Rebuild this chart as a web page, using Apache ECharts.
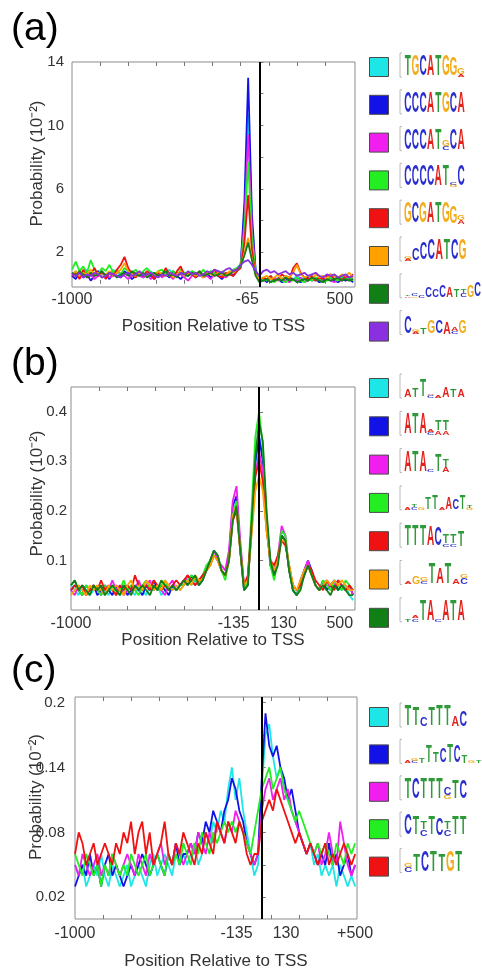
<!DOCTYPE html>
<html>
<head>
<meta charset="utf-8">
<script src="https://cdn.jsdelivr.net/npm/echarts/dist/echarts.min.js"></script>
<style>
  html, body { margin: 0; padding: 0; background: #fff; }
  #chart { width: 482px; height: 971px; }
</style>
</head>
<body>
<div id="chart"></div>
<script>
// Sampling positions (bp relative to TSS)
const positions = [-1000,-980,-960,-940,-920,-900,-880,-860,-840,-820,-800,-780,-760,-740,-720,-700,-680,-660,-640,-620,
  -600,-580,-560,-540,-520,-500,-480,-460,-440,-420,-400,-380,-360,-340,-320,-300,-280,-260,-240,-220,
  -200,-180,-160,-140,-120,-100,-80,-60,-40,-20,0,20,40,60,80,100,120,140,160,180,
  200,220,240,260,280,300,320,340,360,380,400,420,440,460,480,500];

// ---- panel (a) ----
const aCyan = [0.6,0.8,0.5,0.7,0.9,0.6,0.5,0.8,0.7,0.4,0.6,0.9,0.7,0.5,0.6,0.8,0.5,0.7,0.6,0.4,0.7,0.8,0.6,0.5,0.7,0.6,0.9,0.5,0.6,0.7,0.4,0.6,0.8,0.5,0.7,0.6,0.5,0.8,0.6,0.7,0.5,0.6,0.7,0.8,0.9,
  1.3,4.5,10.7,3.8,0.9,0.3,
  0.4,0.3,0.5,0.2,0.4,0.3,0.5,0.4,0.2,0.6,0.3,0.4,0.5,0.3,0.2,0.4,0.5,0.3,0.4,0.6,0.3,0.4,0.5,0.3,0.4];
const aBlue = [0.5,0.3,0.7,0.4,0.6,0.2,0.5,0.8,0.4,0.6,0.3,0.7,0.5,0.4,0.8,0.6,0.3,0.5,0.7,0.4,0.6,0.5,0.3,0.7,0.5,0.6,0.4,0.8,0.5,0.3,0.6,0.5,0.7,0.4,0.6,0.5,0.7,0.4,0.6,0.5,0.3,0.6,0.7,0.5,0.8,
  1.2,5.2,13.0,4.4,0.8,0.2,
  0.3,0.1,0.4,0.2,0.3,0.1,0.2,0.4,0.3,0.2,0.1,0.3,0.4,0.2,0.3,0.1,0.2,0.3,0.4,0.2,0.1,0.3,0.2,0.3,0.1];
const aMagenta = [0.7,0.5,0.6,0.4,0.8,0.6,0.3,0.5,0.7,0.6,0.4,0.5,0.8,0.6,0.5,0.3,0.6,0.7,0.5,0.4,0.6,0.3,0.5,0.7,0.4,0.6,0.5,0.3,0.7,0.6,0.4,0.2,0.5,0.7,0.6,0.4,0.5,0.3,0.6,0.8,0.5,0.4,0.6,0.7,0.9,
  1.1,4.0,9.4,3.4,0.7,0.2,
  0.2,0.3,0.1,0.4,0.2,0.3,0.2,0.1,0.3,0.2,0.4,0.1,0.2,0.3,0.2,0.4,0.1,0.3,0.2,0.1,0.3,0.2,0.4,0.2,0.3];
const aGreen = [0.9,1.4,0.8,1.1,0.7,1.5,0.9,0.6,1.0,0.8,1.2,0.7,0.9,0.6,1.0,0.8,0.7,0.9,0.6,0.8,1.0,0.7,0.5,0.8,0.9,0.6,0.7,0.8,0.5,0.9,0.7,0.6,0.8,0.7,0.5,0.9,0.6,0.8,0.7,0.5,0.8,0.6,0.7,0.9,1.0,
  1.2,3.4,7.7,2.9,0.7,0.2,
  0.3,0.2,0.4,0.1,0.3,0.2,0.1,0.3,0.2,0.4,0.2,0.1,0.3,0.2,0.4,0.3,0.1,0.2,0.4,0.3,0.2,0.5,0.3,0.4,0.2];
const aRed = [0.5,0.7,0.3,0.9,0.4,0.6,1.0,0.5,0.8,0.3,0.7,0.5,0.9,1.2,1.7,1.0,0.6,0.4,0.7,0.5,0.8,0.6,0.3,0.7,0.5,1.0,0.6,0.4,0.8,1.1,0.5,0.7,0.6,0.4,0.8,0.5,0.7,0.6,0.9,0.5,0.4,0.7,0.6,0.5,0.8,
  1.0,2.6,5.6,2.1,0.6,0.2,
  0.4,0.3,0.5,0.2,0.3,0.6,0.4,0.3,1.0,1.3,0.7,0.4,0.3,0.5,0.2,0.4,0.3,0.5,0.6,0.3,0.4,0.2,0.5,0.4,0.6];
const aOrange = [0.6,0.8,0.5,0.7,0.6,0.9,0.5,0.7,0.4,0.6,0.8,0.5,0.7,0.9,1.3,0.8,0.6,0.5,0.7,0.6,0.4,0.7,0.5,0.8,0.6,0.5,0.7,0.4,0.6,0.8,0.5,0.6,0.7,0.5,0.6,0.4,0.7,0.6,0.5,0.7,0.6,0.5,0.8,0.7,0.9,
  1.1,1.9,2.9,1.6,0.6,0.3,
  0.4,0.5,0.3,0.4,0.6,0.3,0.5,0.4,0.7,1.2,0.6,0.4,0.5,0.3,0.6,0.4,0.5,0.3,0.6,0.5,0.4,0.6,0.5,0.7,0.4];
const aDarkGreen = [0.7,0.5,0.8,0.6,0.4,0.7,0.5,0.6,0.8,0.5,0.7,0.6,0.4,0.6,0.7,0.5,0.8,0.6,0.5,0.7,0.4,0.6,0.7,0.5,0.6,0.8,0.5,0.6,0.4,0.7,0.6,0.5,0.7,0.6,0.8,0.5,0.6,0.7,0.5,0.6,0.7,0.5,0.6,0.8,0.9,
  1.1,1.8,2.6,1.5,0.5,0.1,
  0.2,0.3,0.1,0.2,0.3,0.2,0.4,0.2,0.3,0.1,0.2,0.3,0.2,0.4,0.3,0.2,0.1,0.3,0.2,0.3,0.4,0.2,0.3,0.2,0.3];
const aPurple = [0.6,0.5,0.7,0.4,0.6,0.5,0.7,0.6,0.4,0.5,0.7,0.6,0.5,0.4,0.6,0.7,0.5,0.6,0.8,0.5,0.6,0.7,0.5,0.4,0.6,0.5,0.7,0.6,0.5,0.7,0.6,0.8,0.6,0.7,0.5,0.6,0.8,0.7,0.9,0.8,0.7,0.9,1.0,0.8,0.9,
  1.2,1.4,1.5,1.2,0.8,0.5,
  0.8,0.9,0.7,0.8,0.6,0.7,0.8,0.6,0.7,0.5,0.6,0.7,0.5,0.6,0.7,0.5,0.4,0.6,0.5,0.6,0.4,0.5,0.6,0.4,0.5];

// ---- panel (b) ----
const bCyan = [0.05,0.04,0.03,0.05,0.04,0.03,0.04,0.05,0.03,0.04,0.03,0.05,0.04,0.03,0.04,0.05,0.04,0.03,0.05,0.04,0.03,0.05,0.04,0.05,0.03,0.04,0.05,0.04,0.05,0.04,
  0.05,0.06,0.05,0.06,0.05,0.07,0.08,
  0.09,0.11,0.10,0.08,0.07,0.10,0.19,0.22,0.13,0.05,0.06,0.16,0.29,0.35,
  0.31,0.19,0.10,0.07,0.10,0.15,0.14,0.08,0.04,0.03,0.05,0.08,0.09,0.08,0.05,0.04,0.05,0.04,0.05,0.06,0.05,0.04,0.05,0.03,0.02];
const bBlue = [0.04,0.05,0.04,0.03,0.05,0.04,0.05,0.03,0.04,0.05,0.04,0.03,0.05,0.04,0.05,0.03,0.04,0.05,0.04,0.03,0.05,0.04,0.06,0.04,0.05,0.04,0.03,0.05,0.04,0.05,
  0.06,0.05,0.07,0.06,0.05,0.06,0.08,
  0.10,0.12,0.11,0.08,0.07,0.11,0.21,0.23,0.12,0.04,0.05,0.17,0.30,0.35,
  0.30,0.18,0.09,0.07,0.10,0.15,0.14,0.08,0.04,0.03,0.06,0.08,0.10,0.08,0.05,0.04,0.06,0.04,0.05,0.06,0.04,0.05,0.04,0.05,0.03];
const bMagenta = [0.04,0.03,0.05,0.04,0.03,0.04,0.05,0.04,0.03,0.05,0.04,0.06,0.04,0.05,0.03,0.04,0.05,0.04,0.06,0.04,0.05,0.06,0.04,0.05,0.04,0.03,0.05,0.06,0.04,0.05,
  0.05,0.07,0.06,0.05,0.06,0.07,0.08,
  0.10,0.12,0.10,0.09,0.08,0.12,0.22,0.25,0.14,0.05,0.06,0.16,0.27,0.32,
  0.28,0.17,0.10,0.08,0.11,0.17,0.15,0.08,0.05,0.04,0.05,0.08,0.10,0.07,0.05,0.04,0.05,0.06,0.04,0.05,0.06,0.05,0.04,0.05,0.03];
const bGreen = [0.05,0.06,0.04,0.03,0.05,0.04,0.05,0.04,0.03,0.05,0.04,0.05,0.03,0.04,0.06,0.04,0.05,0.04,0.03,0.05,0.06,0.04,0.05,0.04,0.05,0.06,0.04,0.05,0.04,0.05,
  0.05,0.06,0.07,0.06,0.05,0.07,0.09,
  0.10,0.12,0.11,0.08,0.06,0.10,0.19,0.22,0.12,0.04,0.06,0.20,0.35,0.40,
  0.33,0.18,0.09,0.06,0.10,0.16,0.15,0.08,0.04,0.03,0.05,0.07,0.09,0.07,0.05,0.04,0.06,0.05,0.04,0.06,0.05,0.04,0.06,0.05,0.04];
const bRed = [0.04,0.05,0.04,0.05,0.03,0.04,0.05,0.04,0.06,0.04,0.05,0.04,0.03,0.05,0.04,0.05,0.04,0.07,0.05,0.04,0.05,0.04,0.06,0.05,0.04,0.05,0.04,0.05,0.06,0.05,
  0.06,0.07,0.06,0.05,0.06,0.07,0.08,
  0.09,0.11,0.10,0.08,0.07,0.10,0.18,0.20,0.12,0.05,0.07,0.17,0.27,0.30,
  0.26,0.16,0.10,0.09,0.11,0.14,0.13,0.09,0.05,0.04,0.05,0.07,0.09,0.08,0.06,0.05,0.04,0.06,0.05,0.04,0.06,0.05,0.04,0.05,0.04];
const bOrange = [0.03,0.04,0.05,0.04,0.03,0.05,0.04,0.05,0.04,0.03,0.05,0.04,0.05,0.04,0.03,0.05,0.06,0.04,0.05,0.04,0.06,0.05,0.04,0.05,0.04,0.06,0.05,0.04,0.05,0.04,
  0.05,0.06,0.05,0.07,0.06,0.06,0.08,
  0.09,0.11,0.10,0.08,0.07,0.10,0.19,0.21,0.12,0.05,0.06,0.15,0.24,0.27,
  0.24,0.16,0.10,0.08,0.10,0.14,0.14,0.09,0.05,0.04,0.06,0.08,0.09,0.07,0.05,0.04,0.05,0.06,0.05,0.06,0.05,0.06,0.05,0.04,0.04];
const bDarkGreen = [0.05,0.06,0.04,0.05,0.04,0.03,0.05,0.04,0.05,0.03,0.04,0.05,0.04,0.03,0.05,0.04,0.03,0.05,0.04,0.05,0.04,0.03,0.05,0.04,0.06,0.05,0.04,0.05,0.04,0.05,
  0.06,0.05,0.06,0.07,0.05,0.06,0.08,
  0.10,0.12,0.11,0.08,0.07,0.10,0.18,0.21,0.12,0.04,0.05,0.17,0.31,0.38,
  0.34,0.20,0.10,0.07,0.09,0.15,0.14,0.08,0.04,0.03,0.04,0.07,0.09,0.07,0.05,0.04,0.05,0.04,0.03,0.05,0.04,0.05,0.04,0.03,0.03];

// ---- panel (c) ----
const cCyan = [0.05,0.04,0.05,0.03,0.04,0.05,0.04,0.06,0.04,0.03,0.05,0.04,0.03,0.04,0.05,0.03,0.04,0.05,0.04,0.03,0.05,0.06,0.04,0.05,0.06,0.05,0.04,0.06,0.05,0.06,
  0.05,0.06,0.07,0.05,0.06,0.08,0.07,0.09,0.08,0.10,0.09,
  0.12,0.14,0.11,0.13,0.10,0.08,0.06,0.04,0.05,
  0.12,0.17,0.18,0.15,0.13,0.14,0.12,0.11,0.10,0.09,0.08,0.07,0.06,0.07,0.05,0.06,0.04,0.05,0.04,0.05,0.03,0.05,0.04,0.03,0.04,0.03];
const cBlue = [0.03,0.04,0.05,0.04,0.06,0.04,0.05,0.03,0.05,0.06,0.04,0.05,0.04,0.03,0.04,0.05,0.04,0.05,0.06,0.05,0.04,0.05,0.06,0.05,0.04,0.06,0.05,0.07,0.05,0.06,
  0.06,0.07,0.06,0.08,0.07,0.09,0.08,0.10,0.09,0.08,0.10,
  0.11,0.13,0.12,0.10,0.09,0.07,0.06,0.05,0.06,
  0.13,0.19,0.16,0.15,0.16,0.14,0.13,0.11,0.12,0.10,0.08,0.07,0.06,0.07,0.06,0.05,0.06,0.05,0.07,0.05,0.06,0.04,0.05,0.06,0.04,0.05];
const cMagenta = [0.05,0.04,0.06,0.05,0.04,0.05,0.06,0.04,0.05,0.04,0.06,0.05,0.04,0.05,0.06,0.05,0.04,0.06,0.05,0.04,0.06,0.05,0.06,0.07,0.05,0.06,0.05,0.07,0.06,0.05,
  0.06,0.07,0.06,0.08,0.07,0.06,0.08,0.07,0.09,0.08,0.07,
  0.09,0.08,0.10,0.09,0.08,0.07,0.06,0.05,0.06,
  0.10,0.12,0.13,0.11,0.12,0.13,0.11,0.12,0.10,0.09,0.08,0.07,0.06,0.07,0.06,0.07,0.05,0.06,0.08,0.06,0.05,0.09,0.07,0.05,0.04,0.05];
const cGreen = [0.06,0.05,0.04,0.06,0.05,0.04,0.05,0.03,0.05,0.04,0.06,0.05,0.04,0.05,0.04,0.06,0.05,0.04,0.05,0.06,0.04,0.05,0.06,0.05,0.04,0.06,0.05,0.06,0.05,0.07,
  0.06,0.05,0.07,0.06,0.08,0.07,0.06,0.08,0.07,0.08,0.09,
  0.08,0.09,0.08,0.09,0.08,0.07,0.06,0.08,0.10,
  0.12,0.13,0.14,0.12,0.13,0.14,0.12,0.11,0.10,0.09,0.10,0.09,0.08,0.07,0.06,0.07,0.06,0.07,0.06,0.05,0.07,0.06,0.05,0.07,0.06,0.07];
const cRed = [0.06,0.08,0.07,0.05,0.06,0.07,0.05,0.06,0.07,0.06,0.05,0.07,0.06,0.08,0.07,0.09,0.06,0.08,0.09,0.06,0.08,0.05,0.06,0.07,0.09,0.06,0.05,0.07,0.06,0.08,
  0.07,0.06,0.05,0.07,0.06,0.08,0.07,0.06,0.09,0.08,0.07,
  0.09,0.08,0.07,0.09,0.08,0.06,0.05,0.06,0.06,
  0.09,0.10,0.11,0.10,0.12,0.11,0.10,0.09,0.08,0.07,0.08,0.07,0.06,0.07,0.06,0.05,0.06,0.07,0.05,0.06,0.05,0.06,0.07,0.06,0.05,0.06];

// Motif names and sequence logos (columns separated by spaces, letters stacked bottom-up with relative heights)
const aNames = ['TGCATGGG','CCCATGCA','CCCATGCA ','CCCCATGC','GCGATGGG','CCCATCG','CCCATTGC','CTGCAG'];
const aLogos = ['T G C A T G G.9 A.12G.3', 'C C C A T G C A', 'C C C A T C.2G.3 C A', 'C C C C A T G.12C.12 C',
  'G C G A T G G.85 A.2G.25', 'A.1G.1 C.6 C.85 C A T C G', 'A.08T.08 G.08C.1 C.15 C.5 C.4 C.6 A.5 T.4 C.2T.2 G.6 C.7',
  'C.85 A.1G.1 T.3 G.65 C.65 A.55 C.15A.2 G.65'];
const bNames = ['ATTATA','ATATT','ATATT ','TTACT','TTTACTTT','GTATA','TAATA'];
const bLogos = ['A.4 T.45 T.8 C.15A.05 A.12 A.5 T.4 A.35', 'A T A C.12A.15 A.2T.5 A.2T.5', 'A T A C.15 T.85 A.25T.35',
  'A.1 C.15T.1 G.15 T.6 T.7 A.15 A.55 C.5 T.7 G.1T.1', 'T T T A.95 C.9 C.15T.45 C.15T.45 T.75',
  'A.15 G.35 C.15G.2 T A.75 T A.25 C.3G.2', 'T.1 C.15A.1 T A C.15 A T A'];
const cNames = ['TTCTTTAC','TTCTC','TCTTTCTC','CTCTCCTT','TCTTGT'];
const cLogos = ['T T.9 C.45 T.9 T T A.5 C.75', 'A.1 C.1G.1 T.25 T.8 T.5 C.7 T.9 C.8 T.35 G.1 T.1',
  'T C T T T G.2C.4 T.9 C.9', 'C T.9 C.3T.4 T.9 C.85 C.3T.35 T.9 T.9', 'C.25G.2 T.8 C T T.8 G T'];

// Axis labels
const xLabelPos = [[-1000, -65, 500], [-1000, -135, 130, 500], [-1000, -135, 130, 500]];
const xLabelText = [['-1000', '-65', '500'], ['-1000', '-135', '130', '500'], ['-1000', '-135', '130', '+500']];
const xTickPos = [-850, -700, -550, -400, -250, -100, 50, 200, 350];
const yLabelPos = [[2, 6, 10, 14], [0.1, 0.2, 0.3, 0.4], [0.02, 0.08, 0.14, 0.2]];
const yTickPos = [[2, 4, 6, 8, 10, 12, 14], [0.1, 0.2, 0.3, 0.4], [0.02, 0.05, 0.08, 0.11, 0.14, 0.17, 0.2]];
const yRange = [[-0.2, 14], [0, 0.45], [0, 0.205]];

const COLORS = {
  cyan: '#1fe6e6', blue: '#1212e6', magenta: '#f01ff0', green: '#22ee22',
  red: '#f01212', orange: '#ffa200', darkgreen: '#0f7f16', purple: '#8a30e0'
};
const BASE_COLORS = { A: '#e2231c', C: '#2a2fcf', G: '#f2ac1c', T: '#2f9a3a' };

const panels = [
  { data: [aCyan, aBlue, aMagenta, aGreen, aRed, aOrange, aDarkGreen, aPurple],
    colors: ['cyan','blue','magenta','green','red','orange','darkgreen','purple'], names: aNames, logos: aLogos,
    grid: { left: 72, top: 62, width: 283, height: 225 },
    legendTop: 57, legendStep: 36.8, xNameGap: 31, xLabelMargin: 5, yNameGap: 26, yNamePad: 22, yLabelMargin: 8,
    tag: '(a)', tagTop: 10, alignMax: 'right', logoW: [7.6,7.6,7.6,7.6,7.6,7.8,7.0,7.8] },
  { data: [bCyan, bBlue, bMagenta, bGreen, bRed, bOrange, bDarkGreen],
    colors: ['cyan','blue','magenta','green','red','orange','darkgreen'], names: bNames, logos: bLogos,
    grid: { left: 71, top: 387, width: 284, height: 223 },
    legendTop: 378, legendStep: 37.3, xNameGap: 22, xLabelMargin: 6, yNameGap: 25, yNamePad: 10, yLabelMargin: 4,
    tag: '(b)', tagTop: 345, alignMax: 'right', logoW: [7.6,7.6,7.6,6.9,7.6,8.0,7.6] },
  { data: [cCyan, cBlue, cMagenta, cGreen, cRed],
    colors: ['cyan','blue','magenta','green','red'], names: cNames, logos: cLogos,
    grid: { left: 75, top: 697, width: 282, height: 223 },
    legendTop: 707, legendStep: 36.4, xNameGap: 34, xLabelMargin: 7, yNameGap: 30, yNamePad: 22, yLabelMargin: 10,
    tag: '(c)', tagTop: 652, alignMax: null, logoW: [7.9,7.1,7.9,7.9,8.4] }
];

const FONT = '"Liberation Sans", Arial, sans-serif';
const grids = [], xAxes = [], yAxes = [], series = [], legends = [], graphics = [];

function buildLogo(spec, x0, yb, colW, H) {
  const els = [];
  els.push({ type: 'polyline', silent: true,
    shape: { points: [[x0 - 2, yb - H - 3], [x0 - 4, yb - H - 3], [x0 - 4, yb], [x0 - 2, yb]] },
    style: { stroke: '#a8a8a8', lineWidth: 0.8, fill: null } });
  spec.split(' ').forEach((tok, ci) => {
    let y = yb;
    const cx = x0 + colW * (ci + 0.5);
    tok.replace(/([ACGT])([\d.]*)/g, (m, L, h) => {
      const hh = h ? parseFloat(h) : 1;
      els.push({ type: 'text', silent: true, x: cx, y: y,
        scaleX: colW * 0.95 / 14.4, scaleY: H * hh / 14.6,
        style: { text: L, x: 0, y: -6.9, fill: BASE_COLORS[L], font: 'bold 20px "Liberation Sans"',
                 align: 'center', verticalAlign: 'middle' } });
      y -= H * hh;
      return m;
    });
  });
  return els;
}

panels.forEach((p, pi) => {
  grids.push(Object.assign({ show: true, borderColor: '#8c8c8c', borderWidth: 1, backgroundColor: 'transparent' }, p.grid));
  const labelMap = {};
  xLabelPos[pi].forEach((v, k) => { labelMap[v] = xLabelText[pi][k]; });
  const xLab = { customValues: xLabelPos[pi], formatter: v => labelMap[v], fontSize: 16, color: '#333',
                 fontFamily: FONT, margin: p.xLabelMargin };
  if (p.alignMax) xLab.alignMaxLabel = p.alignMax;
  xAxes.push({ type: 'value', gridIndex: pi, min: -1000, max: 510, position: 'bottom',
    axisLine: { show: false }, splitLine: { show: false },
    axisTick: { show: true, inside: true, length: 4, customValues: xTickPos, lineStyle: { color: '#777' } },
    axisLabel: xLab,
    name: 'Position Relative to TSS', nameLocation: 'middle', nameGap: p.xNameGap, nameMoveOverlap: false,
    nameTextStyle: { fontSize: 17, color: '#333', fontFamily: FONT } });
  xAxes.push({ type: 'value', gridIndex: pi, min: -1000, max: 510, position: 'top',
    axisLine: { show: false }, splitLine: { show: false },
    axisTick: { show: true, inside: true, length: 4, customValues: xTickPos, lineStyle: { color: '#777' } },
    axisLabel: { show: false } });
  yAxes.push({ type: 'value', gridIndex: pi, min: yRange[pi][0], max: yRange[pi][1],
    axisLine: { show: false }, splitLine: { show: false },
    axisTick: { show: true, inside: true, length: 4, customValues: yTickPos[pi], lineStyle: { color: '#777' } },
    axisLabel: { customValues: yLabelPos[pi], fontSize: 15, color: '#333', fontFamily: FONT, margin: p.yLabelMargin },
    name: 'Probability (10\u207B\u00B2)', nameLocation: 'middle', nameGap: p.yNameGap, nameMoveOverlap: false,
    nameTextStyle: { fontSize: 17, color: '#333', fontFamily: FONT, padding: [0, 0, 0, p.yNamePad] } });

  p.data.forEach((vals, si) => {
    const s = {
      type: 'line', name: p.names[si], xAxisIndex: pi * 2, yAxisIndex: pi,
      data: positions.map((x, i) => [x, vals[i]]),
      showSymbol: false, symbol: 'none', animation: false,
      color: COLORS[p.colors[si]],
      lineStyle: { width: 1.8, color: COLORS[p.colors[si]] }
    };
    if (si === p.data.length - 1) {
      s.markLine = { silent: true, symbol: 'none', animation: false, label: { show: false },
        lineStyle: { color: '#000', width: 2, type: 'solid' }, data: [{ xAxis: 0 }] };
    }
    series.push(s);
  });

  legends.push({ data: p.names, orient: 'vertical', left: 369, top: p.legendTop, padding: 0,
    itemWidth: 19, itemHeight: 19, itemGap: p.legendStep - 19, icon: 'rect', selectedMode: false,
    formatter: () => '', textStyle: { fontSize: 8 },
    itemStyle: { borderColor: '#4a4a4a', borderWidth: 1 } });

  p.logos.forEach((spec, li) => {
    const yb = p.legendTop + li * p.legendStep + 20;
    buildLogo(spec, 404, yb, p.logoW[li], 21).forEach(e => graphics.push(e));
  });

  graphics.push({ type: 'text', left: 11, top: p.tagTop, silent: true,
    style: { text: p.tag, font: '39px "Liberation Sans"', fill: '#000' } });
});

const chart = echarts.init(document.getElementById('chart'), null, { renderer: 'canvas' });
chart.setOption({
  animation: false,
  backgroundColor: '#fff',
  grid: grids, xAxis: xAxes, yAxis: yAxes, series: series, legend: legends,
  graphic: { elements: graphics }
});
</script>
</body>
</html>
